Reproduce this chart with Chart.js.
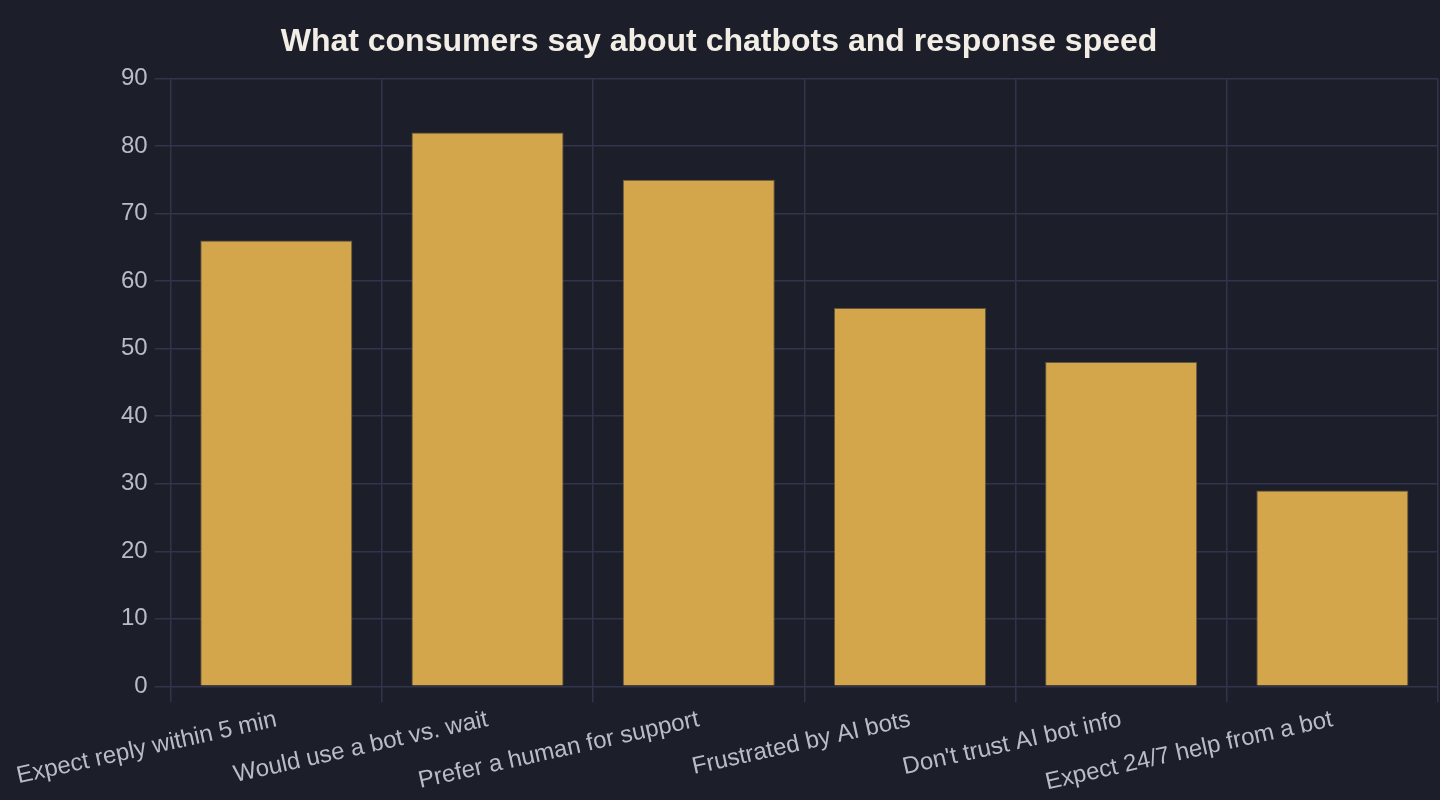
<!DOCTYPE html>
<html>
<head>
<meta charset="utf-8">
<title>Chatbots and response speed</title>
<script src="https://cdn.jsdelivr.net/npm/chart.js"></script>
<style>
  html, body { margin: 0; padding: 0; background: #1c1e2a; }
  .wrap { width: 1440px; height: 800px; position: relative; }
</style>
</head>
<body>
<div class="wrap"><canvas id="chart"></canvas></div>
<script>
// Survey categories and share of consumers (%)
const categories = [
  'Expect reply within 5 min',
  'Would use a bot vs. wait',
  'Prefer a human for support',
  'Frustrated by AI bots',
  "Don't trust AI bot info",
  'Expect 24/7 help from a bot'
];
const shares = [66, 82, 75, 56, 48, 29];

const gridColor = '#31344a';
const tickColor = '#b9bcc8';
const fontFamily = 'Liberation Sans, Arial, sans-serif';

new Chart(document.getElementById('chart'), {
  type: 'bar',
  data: {
    labels: categories,
    datasets: [{
      label: 'Share of consumers (%)',
      data: shares,
      backgroundColor: '#d4a64b',
      borderColor: 'rgba(120, 100, 70, 0.8)',
      borderWidth: 1
    }]
  },
  options: {
    responsive: true,
    maintainAspectRatio: false,
    animation: false,
    layout: { padding: { left: 0, right: 2, top: 0, bottom: 0 } },
    scales: {
      x: {
        grid: { color: gridColor, offset: true, tickLength: 16, lineWidth: 1.5 },
        border: { color: gridColor },
        ticks: {
          color: tickColor,
          font: { family: fontFamily, size: 24 },
          minRotation: 12.5,
          maxRotation: 12.5,
          autoSkip: false
        }
      },
      y: {
        min: 0,
        max: 90,
        // widen the axis box so the plot starts where the original does
        afterFit: (scale) => { scale.width = 170; },
        grid: { color: gridColor, tickLength: 16, lineWidth: 1.5 },
        border: { color: gridColor },
        ticks: {
          stepSize: 10,
          color: tickColor,
          padding: 7,
          font: { family: fontFamily, size: 24 }
        }
      }
    },
    plugins: {
      legend: { display: false },
      tooltip: { enabled: false },
      title: {
        display: true,
        text: 'What consumers say about chatbots and response speed',
        color: '#f2eee6',
        font: { family: fontFamily, size: 32, weight: 'bold' },
        padding: { top: 23, bottom: 17 }
      }
    }
  }
});
</script>
</body>
</html>
